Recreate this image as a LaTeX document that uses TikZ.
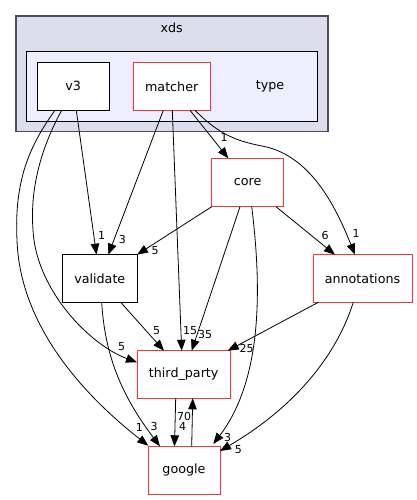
\documentclass[tikz,border=0pt]{standalone}
\usepackage{fontspec}
\setmainfont{DejaVu Sans}
\usetikzlibrary{arrows.meta}
\definecolor{clouter}{HTML}{DDDDEE}
\definecolor{clinner}{HTML}{EEEEFF}
\definecolor{cborder}{HTML}{4D4D55}
\definecolor{cred}{HTML}{FF3333}
\begin{document}
\begin{tikzpicture}[x=1pt,y=-1pt,
  box/.style={draw=black,fill=white,line width=0.9pt},
  redbox/.style={draw=cred,fill=white,line width=0.9pt},
  lbl/.style={font=\fontsize{12.7}{14}\selectfont,inner sep=0pt},
  elbl/.style={font=\fontsize{11}{12}\selectfont,inner sep=0pt},
  edge/.style={draw=black,line width=0.8pt,-{Triangle[length=11pt,width=8.5pt]}}]
\useasboundingbox (0,0) rectangle (417,500);
\fill[white] (0,0) rectangle (417,500);
% clusters
\draw[fill=clouter,draw=cborder,line width=1.3pt] (16,16) rectangle (328,131.5);
\node[lbl] (xdslbl) at (171.7,27.5) {xds};
\draw[fill=clinner,draw=black,line width=0.9pt] (26.5,51.7) rectangle (317,121.3);
\node[lbl] (typelbl) at (270,86) {type};
% nodes
\draw[box] (37,62.3) rectangle (109.3,110.3);
\node[lbl] (v3) at (73.2,86.3) {v3};
\draw[redbox] (133.3,62.3) rectangle (210,110.3);
\node[lbl] (matcher) at (171.7,86.3) {matcher};
\draw[redbox] (211.7,158.3) rectangle (283.7,206.7);
\node[lbl] (core) at (247.7,182.5) {core};
\draw[box] (62.7,254.7) rectangle (137,302.3);
\node[lbl] (validate) at (99.8,278.5) {validate};
\draw[redbox] (313,254.7) rectangle (412,302.3);
\node[lbl] (annotations) at (362.5,278.5) {annotations};
\draw[redbox] (137,350.7) rectangle (230.3,398.3);
\node[lbl] (thirdparty) at (183.7,374.5) {third\_party};
\draw[redbox] (148,446.3) rectangle (220,494.3);
\node[lbl] (google) at (184,470.3) {google};
% coordinates
\coordinate (v3a) at (76.3,110.3);
\coordinate (v3b) at (61.7,110.3);
\coordinate (v3c) at (55,110.3);
\coordinate (ma) at (163.3,110.3);
\coordinate (mb) at (172.3,110.3);
\coordinate (mc) at (190,110.3);
\coordinate (md) at (195,110.3);
\coordinate (ca) at (211.7,206.7);
\coordinate (cb) at (240,206.7);
\coordinate (cc) at (251.7,206.7);
\coordinate (cd) at (276,206.7);
\coordinate (vaa) at (120.7,302.3);
\coordinate (vab) at (101.7,302.3);
\coordinate (ana) at (318.3,302.3);
\coordinate (anb) at (353.3,302.3);
\coordinate (tpa) at (175.7,398.3);
\coordinate (goa) at (191.7,446.3);
% target points
\coordinate (vt1) at (96.5,254.7);
\coordinate (vt2) at (108.3,254.7);
\coordinate (vt3) at (137,254.7);
\coordinate (tt1) at (137,362.3);
\coordinate (tt2) at (164,350.7);
\coordinate (tt3) at (181.7,350.7);
\coordinate (tt4) at (191.7,350.7);
\coordinate (tt5) at (227.7,350.7);
\coordinate (tt6) at (192.7,398.3);
\coordinate (gt1) at (148.3,445.7);
\coordinate (gt2) at (160,446.3);
\coordinate (gt3) at (174.5,446.3);
\coordinate (gt4) at (213.3,444);
\coordinate (gt5) at (220,451);
\coordinate (ct1) at (228.3,158.3);
\coordinate (at1) at (335,254.7);
\coordinate (at2) at (355,254.7);
% edges
\draw[edge] (v3a) -- (vt1);
\node[elbl] (l1a) at (101.7,235) {1};
\draw[edge] (v3b) .. controls (40,150) and (30,190) .. (33,230) .. controls (36,290) and (90,345) .. (tt1);
\node[elbl] (l5a) at (121.7,346.7) {5};
\draw[edge] (v3c) .. controls (30,145) and (14,180) .. (17,240) .. controls (20,330) and (90,400) .. (gt1);
\node[elbl] (l1c) at (139.3,427.7) {1};
\draw[edge] (ma) -- (vt2);
\node[elbl] (l3a) at (122.3,239.5) {3};
\draw[edge] (mb) -- (tt3);
\node[elbl] (l15) at (190,330.7) {15};
\draw[edge] (mc) -- (ct1);
\node[elbl] (l1d) at (224,137.7) {1};
\draw[edge] (md) .. controls (215,130) and (230,140) .. (262,146) .. controls (310,155) and (335,205) .. (at2);
\node[elbl] (l1e) at (356,233.3) {1};
\draw[edge] (ca) -- (vt3);
\node[elbl] (l5b) at (155,251) {5};
\draw[edge] (cb) -- (tt4);
\node[elbl] (l35) at (205,334.3) {35};
\draw[edge] (cc) .. controls (262,290) and (262,380) .. (gt4);
\node[elbl] (l3b) at (227.7,437.7) {3};
\draw[edge] (cd) -- (at1);
\node[elbl] (l6) at (325,235.7) {6};
\draw[edge] (vaa) -- (tt2);
\node[elbl] (l5c) at (156.7,330.7) {5};
\draw[edge] (vab) .. controls (105,360) and (125,400) .. (gt2);
\node[elbl] (l3c) at (154,426.7) {3};
\draw[edge] (ana) -- (tt5);
\node[elbl] (l25) at (246.7,348.7) {25};
\draw[edge] (anb) .. controls (335,360) and (290,410) .. (gt5);
\node[elbl] (l5d) at (238.3,450) {5};
\draw[edge] (tpa) -- (gt3);
\node[elbl] (l4) at (182.7,426.7) {4};
\draw[edge] (goa) -- (tt6);
\node[elbl] (l70) at (184,416) {70};
\end{tikzpicture}
\end{document}
